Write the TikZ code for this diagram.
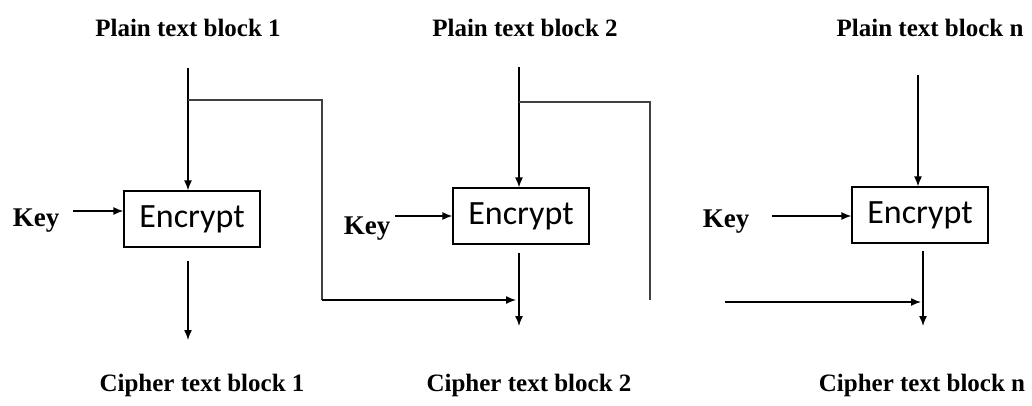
\documentclass[tikz,border=0pt]{standalone}
\usepackage{fontspec}
\setmainfont{Liberation Serif}
\newfontfamily\calibri{Carlito}
\usetikzlibrary{arrows.meta}

\begin{document}
\begin{tikzpicture}[
	x=1pt, y=-1pt,
	lbl/.style={font=\bfseries\fontsize{25}{30}\selectfont, inner sep=0pt},
	keylbl/.style={font=\bfseries\fontsize{27}{32}\selectfont, inner sep=0pt},
	encbox/.style={draw, line width=1.2pt, minimum width=136pt, minimum height=56pt, inner sep=0pt, font=\calibri\fontsize{34}{40}\selectfont},
	line/.style={line width=1.4pt},
	fb/.style={line width=1.8pt, black!75},
	arr/.style={line width=1.4pt, -{Latex[length=10pt, width=8pt]}}
	]

	\useasboundingbox (0,0) rectangle (1032,405);

	% labels
	\node[lbl] (plain1) at (188,28) {Plain text block 1};
	\node[lbl] (plain2) at (525,28) {Plain text block 2};
	\node[lbl] (plainn) at (930,28) {Plain text block n};
	\node[lbl] (cipher1) at (202,385) {Cipher text block 1};
	\node[lbl] (cipher2) at (529,385) {Cipher text block 2};
	\node[lbl] (ciphern) at (922,385) {Cipher text block n};
	\node[keylbl] (key1) at (36,221) {Key};
	\node[keylbl] (key2) at (367,229) {Key};
	\node[keylbl] (keyn) at (726,222) {Key};

	% encrypt boxes
	\node[encbox] (enc1) at (192,219) {Encrypt};
	\node[encbox] (enc2) at (521,216) {Encrypt};
	\node[encbox] (encn) at (920,215) {Encrypt};

	% helper coordinates
	\coordinate (in1) at (188,68);
	\coordinate (in2) at (519,67);
	\coordinate (inn) at (918,75);
	\coordinate (out1) at (188,340);
	\coordinate (out2) at (519,326);
	\coordinate (outn) at (923,326);
	\coordinate (k1) at (73,211);
	\coordinate (k2) at (395,216);
	\coordinate (kn) at (772,216);
	\coordinate (br1) at (188,100);
	\coordinate (br2) at (519,102);
	\coordinate (c1) at (322,300);
	\coordinate (c2) at (650,300);
	\coordinate (mrg2) at (516,300);
	\coordinate (fromn) at (725,302);
	\coordinate (mrgn) at (921,302);

	% plain text inputs
	\draw[arr] (in1) -- (in1 |- enc1.north);
	\draw[arr] (in2) -- (in2 |- enc2.north);
	\draw[arr] (inn) -- (inn |- encn.north);

	% keys
	\draw[arr] (k1) -- (k1 -| enc1.west);
	\draw[arr] (k2) -- (k2 -| enc2.west);
	\draw[arr] (kn) -- (kn -| encn.west);

	% cipher outputs
	\draw[arr, shorten <=13pt] (out1 |- enc1.south) -- (out1);
	\draw[arr, shorten <=8pt] (out2 |- enc2.south) -- (out2);
	\draw[arr, shorten <=7pt] (outn |- encn.south) -- (outn);

	% chaining lines
	\draw[fb] (br1) -| (c1);
	\draw[arr] (c1) -- (mrg2);
	\draw[fb] (br2) -| (c2);
	\draw[arr] (fromn) -- (mrgn);

\end{tikzpicture}
\end{document}
